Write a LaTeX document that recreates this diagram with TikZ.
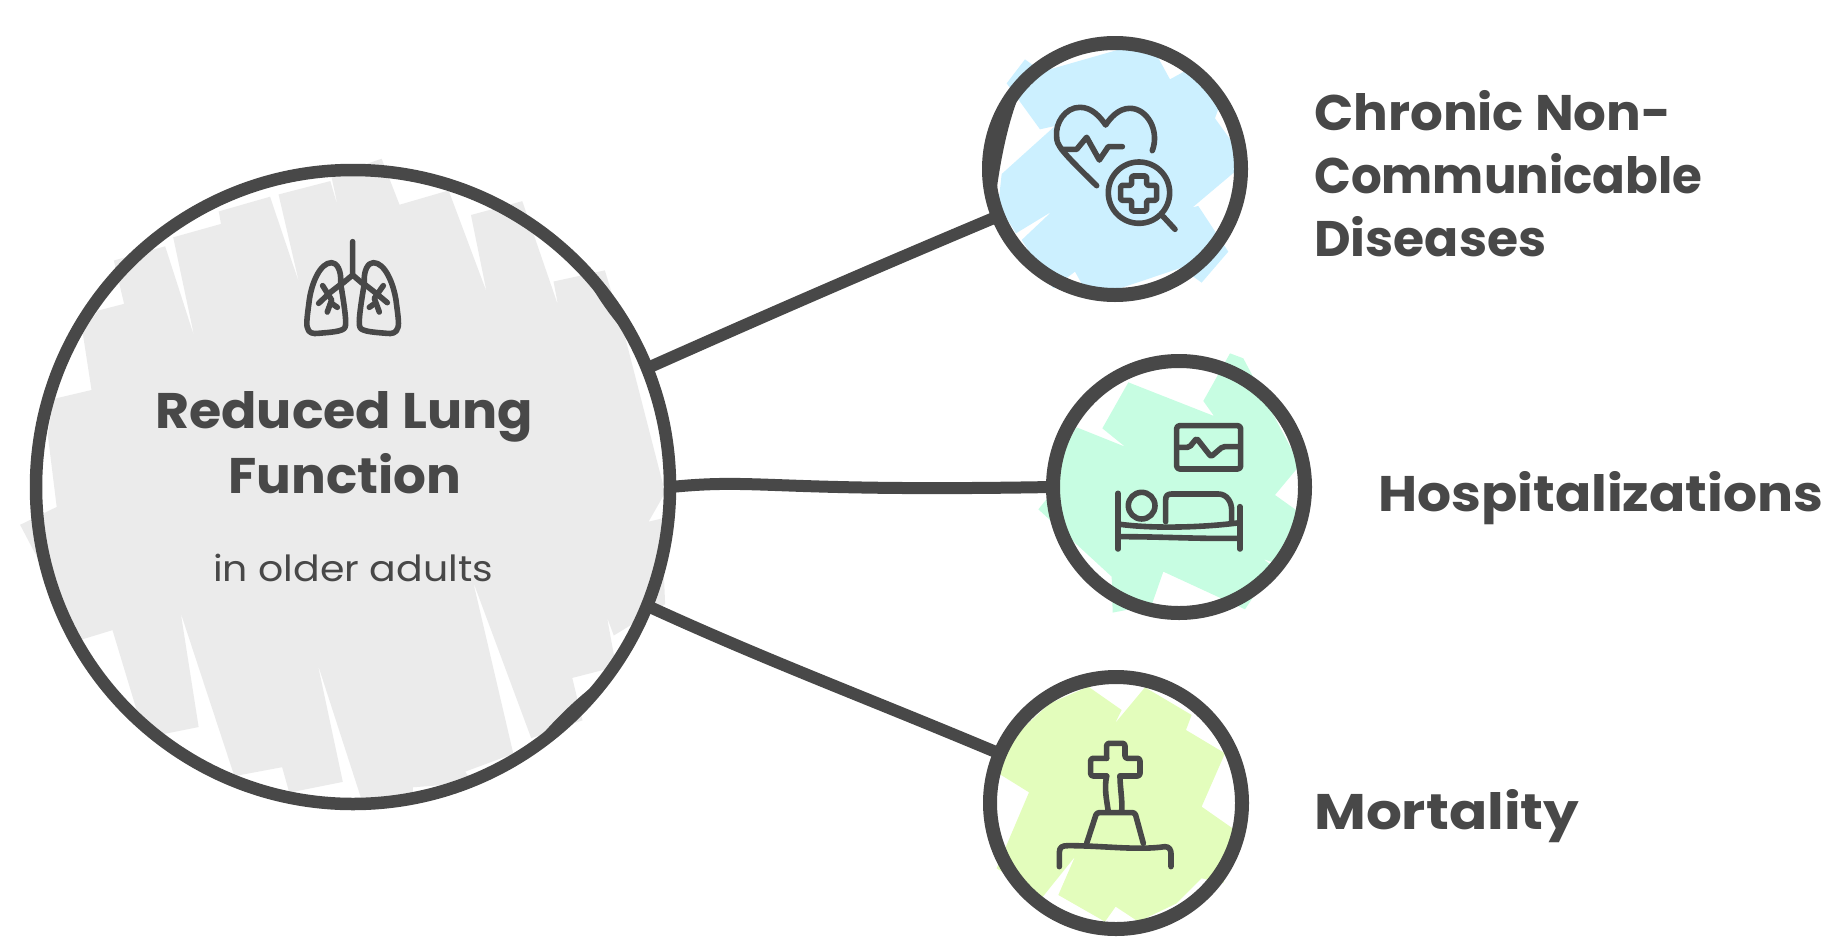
\documentclass[tikz,border=0pt]{standalone}
\usepackage{fontspec}
\setmainfont{Poppins}
\newfontfamily\headf{Poppins Bold}
\newfontfamily\subf{Poppins}
\definecolor{ink}{HTML}{484848}
\definecolor{grayfill}{HTML}{EBEBEB}
\definecolor{bluefill}{HTML}{CCF0FF}
\definecolor{greenfill}{HTML}{C7FDE2}
\definecolor{limefill}{HTML}{E3FDBC}
\newcommand{\fitw}[2]{\resizebox{#1pt}{\height}{#2}}
\tikzset{
  hub/.style={circle,inner sep=0pt,outer sep=0pt,draw=none},
  rim/.style={draw=ink,line width=12.5pt,line join=round},
  smallrim/.style={draw=ink,line width=14pt,line join=round},
  link/.style={draw=ink,line width=12pt},
  ico/.style={draw=ink,line width=5.6pt,line cap=round,line join=round},
  head/.style={text=ink,inner sep=0pt,anchor=base west,font=\headf\fontsize{50}{63}\selectfont},
  sub/.style={text=ink,inner sep=0pt,anchor=base west,font=\subf\fontsize{36}{40}\selectfont},
  z5/.style={shift={(0,140)},x=0.4464pt,y=-0.4464pt},
  z3/.style={x=0.3333pt,y=-0.3333pt}
}
\begin{document}
\begin{tikzpicture}[x=1pt,y=-1pt]
\useasboundingbox (0,0) rectangle (1823,937);
% hidden hubs
\node[hub,minimum size=636pt] (main) at (353,487) {};
\node[hub,minimum size=254pt] (chronic) at (1115,169) {};
\node[hub,minimum size=254pt] (hosp) at (1179,487) {};
\node[hub,minimum size=254pt] (mort) at (1116,803) {};
% fills
\begin{scope}[z5]
\fill[grayfill] (255,270)--(370,238)--(435,440)--(388,218)--(495,188)--(490,160)--(605,127)--(670,320)--(624,122)--(740,92)--(757,150)--(742,80)--(855,42)--(895,145)--(1005,113)--(1090,340)--(1055,168)--(1170,137)--(1250,370)--(1240,317)--(1355,292)--(1400,440)--(1490,790)--(1453,855)--(1482,848)--(1490,1040)--(1375,1110)--(1360,1070)--(1380,1180)--(1282,1205)--(1305,1300)--(1190,1340)--(1060,990)--(1150,1375)--(1042,1415)--(1060,1440)--(925,1450)--(925,1465)--(810,1478)--(712,1175)--(768,1438)--(648,1462)--(632,1405)--(525,1425)--(405,1060)--(445,1315)--(345,1335)--(310,1290)--(252,1098)--(180,1120)--(45,862)--(127,822)--(107,660)--(120,580)--(205,560)--(185,430)--(220,382)--(278,367)--cycle;
\end{scope}
\begin{scope}[shift={(960,20)},z3]
\fill[bluefill] (195,118)--(245,155)--(490,85)--(590,105)--(630,178)--(690,145)--(790,225)--(765,295)--(830,385)--(825,455)--(698,562)--(715,558)--(805,695)--(725,788)--(700,770)--(680,738)--(465,810)--(370,800)--(345,755)--(280,805)--(185,660)--(275,575)--(168,640)--(115,555)--(125,462)--(285,318)--(240,328)--(140,190)--cycle;
\end{scope}
\begin{scope}[shift={(1030,340)},z3]
\fill[greenfill] (295,127)--(552,228)--(520,183)--(600,40)--(640,55)--(810,375)--(735,465)--(805,515)--(735,670)--(700,657)--(730,680)--(645,808)--(400,695)--(365,795)--(248,818)--(245,710)--(120,595)--(25,508)--(60,465)--(85,350)--(140,262)--(285,320)--(217,265)--cycle;
\end{scope}
\begin{scope}[shift={(970,660)},z3]
\fill[limefill] (355,80)--(455,150)--(435,190)--(525,82)--(665,165)--(648,210)--(765,280)--(695,440)--(795,510)--(760,670)--(695,655)--(620,730)--(505,785)--(437,740)--(405,785)--(265,705)--(315,590)--(217,712)--(80,625)--(177,397)--(85,340)--(120,240)--(240,130)--cycle;
\end{scope}
% connectors
\draw[link] (main.22.5) .. controls (760,318) and (870,270) .. (chronic.202.7);
\draw[link] (main.0) .. controls (760,478) and (770,492) .. (hosp.180);
\draw[link] (main.-22.8) .. controls (770,662) and (860,695) .. (mort.157.5);
% outlines
\draw[rim] (main.center) circle[radius=317];
\fill[ink] (581,267) .. controls (595,295) and (613,321) .. (635,343) .. controls (620,316) and (602,290) .. (581,267) -- cycle;
\fill[ink] (527,753) .. controls (548,726) and (571,703) .. (598,682) .. controls (576,708) and (553,731) .. (527,753) -- cycle;
\draw[smallrim] (chronic.center) circle[radius=126];
\begin{scope}[shift={(960,20)},z3]
\fill[ink] (215,150) .. controls (145,260) and (115,450) .. (100,590) .. controls (70,450) and (100,260) .. (215,150) -- cycle;
% heart icon
\draw[ico] (577,392) .. controls (600,330) and (560,265) .. (510,265) .. controls (475,265) and (450,295) .. (437,315) .. controls (420,290) and (395,262) .. (360,262) .. controls (315,262) and (285,310) .. (290,350) .. controls (290,375) and (300,390) .. (410,497);
\draw[ico] (305,388)--(350,388)--(380,352)--(418,420)--(445,380)--(487,380);
\draw[ico] (537,518) circle[radius=92];
\draw[ico] (610,590)--(645,628);
\draw[ico,rounded corners=1.5pt] (515,468)--(560,468)--(560,496)--(590,496)--(590,541)--(560,541)--(560,573)--(515,573)--(515,541)--(482,541)--(482,496)--(515,496)--cycle;
\end{scope}
\draw[smallrim] (hosp.center) circle[radius=126];
\begin{scope}[shift={(1030,340)},z3]
\draw[ico] (264,460)--(264,627);
\draw[ico] (630,500)--(630,627);
\draw[ico] (264,590) .. controls (400,590) and (500,597) .. (630,595);
\draw[ico] (264,552) .. controls (350,565) and (500,565) .. (630,548);
\draw[ico] (335,497) circle[radius=40];
\draw[ico] (407,545)--(407,480) .. controls (407,468) and (412,462) .. (425,462)--(565,462) .. controls (590,462) and (605,485) .. (605,510)--(605,545);
\draw[ico,rounded corners=3pt] (440,257) rectangle (632,387);
\draw[ico,rounded corners=2pt] (445,322)--(478,322)--(500,295)--(543,350)--(578,320)--(625,320);
\end{scope}
\draw[smallrim] (mort.center) circle[radius=126];
\begin{scope}[shift={(970,660)},z3]
\draw[ico,rounded corners=2.5pt] (410,295)--(410,250)--(465,250)--(465,295)--(510,295)--(510,348)--(450,348);
\draw[ico,rounded corners=2.5pt] (410,295)--(362,295)--(362,348)--(410,348);
\draw[ico] (410,348) .. controls (402,385) and (410,420) .. (415,455);
\draw[ico] (450,348) .. controls (450,385) and (458,420) .. (455,455);
\draw[ico,rounded corners=2.5pt] (350,550)--(380,458)--(495,458)--(520,550);
\draw[ico] (268,620)--(268,578) .. controls (268,560) and (278,557) .. (295,557) .. controls (400,557) and (500,572) .. (585,560) .. controls (598,560) and (603,570) .. (603,580)--(603,620);
\end{scope}
% lungs
\begin{scope}[shift={(130,220)},z3]
\draw[ico] (668,65)--(668,165)--(638,190);
\draw[ico] (668,165)--(697,190);
\draw[ico] (632,190) .. controls (635,150) and (620,128) .. (605,128) .. controls (570,128) and (545,190) .. (538,240) .. controls (533,280) and (528,310) .. (532,322) .. controls (535,340) and (550,342) .. (565,340) .. controls (600,337) and (640,335) .. (645,322) .. controls (652,310) and (640,240) .. (632,190);
\draw[ico] (703,190) .. controls (700,150) and (715,128) .. (730,128) .. controls (765,128) and (790,190) .. (798,240) .. controls (803,280) and (808,310) .. (804,322) .. controls (800,340) and (785,342) .. (770,340) .. controls (735,337) and (695,335) .. (690,322) .. controls (683,310) and (695,240) .. (703,190);
\draw[ico] (636,190)--(600,218)--(566,250);
\draw[ico] (578,197)--(605,240)--(592,276);
\draw[ico] (605,250)--(622,262);
\draw[ico] (700,190)--(736,218)--(772,248);
\draw[ico] (760,197)--(733,235)--(748,276);
\draw[ico] (735,250)--(718,262);
\end{scope}
% labels
\node[head] (t1) at (155,428) {\fitw{378}{Reduced Lung}};
\node[head] (t2) at (228,493) {\fitw{233}{Function}};
\node[sub] (t3) at (213,581) {\fitw{280}{in older adults}};
\node[head] (l1a) at (1314,130) {\fitw{357}{Chronic Non-}};
\node[head] (l1b) at (1314,193) {\fitw{388}{Communicable}};
\node[head] (l1c) at (1314,256) {\fitw{232}{Diseases}};
\node[head] (l2) at (1378,511) {\fitw{445}{Hospitalizations}};
\node[head] (l3) at (1314,829) {\fitw{265}{Mortality}};
\end{tikzpicture}
\end{document}
